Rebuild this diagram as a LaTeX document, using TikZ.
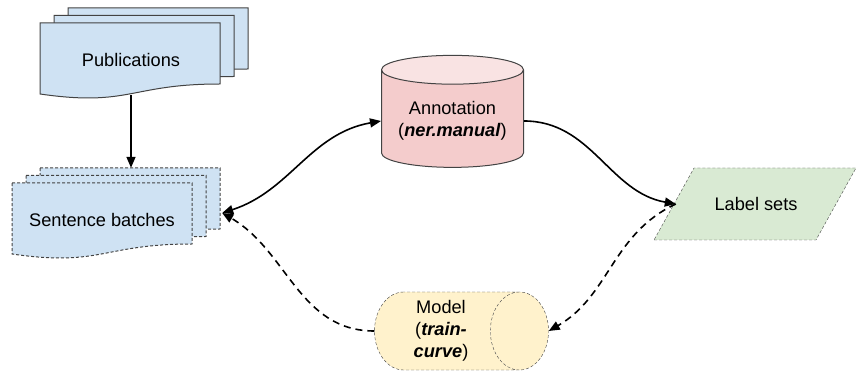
\documentclass[tikz,border=0pt]{standalone}
\usepackage{fontspec}
\setmainfont{Liberation Sans}
\usetikzlibrary{arrows.meta,shapes.geometric}

\definecolor{docblue}{HTML}{CFE2F3}
\definecolor{annpink}{HTML}{F4CCCC}
\definecolor{setgreen}{HTML}{D9EAD3}
\definecolor{modelyellow}{HTML}{FFF2CC}
\definecolor{edgegray}{HTML}{434343}

\tikzset{
  sheet/.style={draw=edgegray, fill=docblue, line width=1pt},
  finedash/.style={dash pattern=on 3pt off 2pt},
  frame/.style={inner sep=0pt},
  conn/.style={line width=1.6pt, -{Triangle[length=11pt,width=9pt]}},
  dconn/.style={conn, dash pattern=on 7pt off 5pt},
}

% stack of three document sheets, front one at (#1,#2) = top left corner
\newcommand{\sheetstack}[3]{%
  \foreach \k in {2,1,0}
    \draw[sheet,#3] (#1+14*\k,#2+7.5*\k) -- ++(180,0) -- ++(0,-61)
      .. controls +(-90,0) and +(90,-13) .. ++(-180,-10) -- cycle;
}

\begin{document}
\begin{tikzpicture}[x=1pt, y=1pt, font=\fontsize{18.2}{22}\selectfont]
  \useasboundingbox (0,0) rectangle (856,372);

  % documents
  \sheetstack{40}{349}{}
  \sheetstack{12}{189}{finedash}
  \node[frame, minimum width=210, minimum height=88] (pub) at (145,321) {};
  \node (pub-label) at (131,312) {Publications};
  \node[frame, minimum width=210, minimum height=90] (sb) at (117,159) {};
  \node (sb-label) at (102,152) {Sentence batches};

  % tools and outputs
  \node[cylinder, shape border rotate=90, aspect=0.25, minimum width=142, minimum height=112,
        draw=edgegray, line width=1pt, cylinder uses custom fill,
        cylinder body fill=annpink, cylinder end fill=annpink!55!white, align=center]
        (ann) at (452.5,251) {Annotation\\(\textbf{\textit{ner.manual}})};
  \draw[draw=edgegray, fill=setgreen, finedash] (654,132) -- (816,132) -- (856,204) -- (694,204) -- cycle;
  \node[frame, minimum width=160, minimum height=72] (ls) at (756,168) {Label sets};
  \node[cylinder, aspect=0.86, minimum width=78, minimum height=174,
        draw=edgegray, finedash, cylinder uses custom fill,
        cylinder body fill=modelyellow, cylinder end fill=modelyellow, align=center]
        (model) at (441,41) {Model\\(\textbf{\textit{train-}}\\\textbf{\textit{curve}})};

  % connectors
  \draw[conn] (pub.south -| pub-label) -- (sb.north -| pub-label);
  \draw[conn, {Triangle[length=11pt,width=9pt]}-{Triangle[length=11pt,width=9pt]}]
    (sb.east) to[out=18, in=190] (ann.west);
  \draw[conn] (ann.east) to[out=0, in=170] (ls.west);
  \draw[dconn] (ls.west) to[out=205, in=30] (model.east);
  \draw[dconn] (model.west) to[out=180, in=-30] (sb.east);
\end{tikzpicture}
\end{document}
